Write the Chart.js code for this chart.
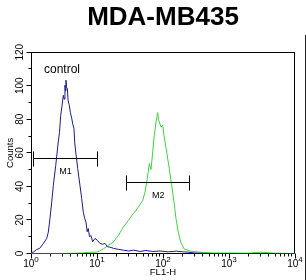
<!DOCTYPE html>
<html>
<head>
<meta charset="UTF-8">
<title>MDA-MB435</title>
<script src="https://cdn.jsdelivr.net/npm/chart.js"></script>
<style>
  html, body { margin: 0; padding: 0; background: #fff; }
  #wrap { width: 306px; height: 280px; }
</style>
</head>
<body>
<div id="wrap"><canvas id="c" width="306" height="280"></canvas></div>
<script>
// control (blue) histogram, FL1-H vs counts
const controlX = [1.0, 1.1, 1.22, 1.35, 1.54, 1.73, 1.83, 1.94, 2.06, 2.18, 2.37, 2.59, 2.7, 2.82, 2.95, 3.09, 3.18, 3.27, 3.33, 3.39, 3.45, 3.55, 3.65, 3.8, 3.95, 4.14, 4.3, 4.48, 4.6, 4.76, 5.1, 5.52, 5.86, 6.2, 6.5, 6.81, 7.1, 7.38, 7.7, 8.11, 8.6, 9.33, 10.2, 11.1, 12.1, 13.2, 14.4, 15.7, 18, 21, 25, 30, 36, 45, 55, 70, 90, 120, 160, 200, 240, 300, 500, 1000, 3000, 10000];
const controlY = [0.5, 1.0, 2.4, 3, 6, 9, 12.7, 21, 30.6, 40.6, 52.5, 66.5, 72, 82.4, 88, 94.3, 92, 100.3, 97, 103.3, 99, 98.5, 91, 88.4, 84, 80.6, 77, 74.6, 66, 60.5, 50.7, 40.6, 32.8, 24.6, 21, 18.7, 13, 14.9, 10, 10.7, 7, 9, 7.8, 6, 5.5, 6, 4, 3.8, 3, 2.5, 2, 1.5, 2, 1.2, 1.8, 1.2, 1.5, 1, 1.4, 1, 0.8, 0.3, 0, 0, 0, 0];

// sample (green) histogram
const sampleX = [1, 3, 6, 8, 9.9, 11, 12.5, 14.8, 17.7, 21, 25, 29.8, 35.5, 42.2, 49.2, 53.4, 57.8, 62, 65.8, 69.8, 73.8, 78.3, 80.5, 83.2, 85.5, 87.9, 93.3, 98.9, 103.5, 113.7, 124.5, 135.4, 146.8, 157.4, 170.6, 185.4, 208, 256, 363, 600, 1000, 2000, 3000, 5000, 10000];
const sampleY = [0, 0, 0.3, 0.8, 0.8, 1.5, 2.8, 4.8, 6.8, 10.7, 15.7, 19.7, 23.7, 27.6, 31.6, 36.6, 44.6, 53.6, 50, 60.5, 70.4, 78.4, 81, 84, 80, 78.4, 75.4, 76.4, 70.4, 60.5, 50.6, 40.6, 30.6, 20.7, 12.7, 6.8, 2.8, 1.4, 0.8, 0.3, 0.3, 0.2, 0.8, 0.2, 0];

// gates
const gateNames = ['M1', 'M2'];
const gateLo = [1.11, 28.2];
const gateHi = [10, 256];
const gateLevel = [56.7, 42.2];

const yTicks = [0, 20, 40, 60, 80, 100, 120];
const xDecades = [0, 1, 2, 3, 4];

const FONT = "'Liberation Sans', Arial, sans-serif";

const toPts = (xs, ys) => xs.map((v, i) => ({ x: v, y: ys[i] }));

const decor = {
  id: 'decor',
  beforeDatasetsDraw(chart) {
    const { ctx, chartArea: a, scales: { x, y } } = chart;
    const L = Math.floor(a.left) + 0.5, R = Math.floor(a.right) - 0.5;
    const T = Math.floor(a.top) + 0.5, B = Math.floor(a.bottom) + 0.5;
    ctx.save();
    ctx.strokeStyle = '#000';
    ctx.lineWidth = 1;
    ctx.strokeRect(L, T, R - L, B - T);

    ctx.beginPath();
    // y ticks
    for (let v = 0; v <= 120; v += 10) {
      const py = Math.floor(y.getPixelForValue(v)) + 0.5;
      const len = v % 20 === 0 ? 5 : 3;
      ctx.moveTo(L, py);
      ctx.lineTo(L - len, py);
    }
    // x ticks
    xDecades.forEach(d => {
      for (let m = 1; m <= 9; m++) {
        const v = m * Math.pow(10, d);
        if (v > 10000) break;
        const px = Math.floor(x.getPixelForValue(v)) + 0.5;
        const len = m === 1 ? 5 : 3;
        ctx.moveTo(px, B);
        ctx.lineTo(px, B + len);
      }
    });
    ctx.stroke();

    ctx.fillStyle = '#000';
    // y labels, rotated
    ctx.font = '10px ' + FONT;
    ctx.textAlign = 'center';
    ctx.textBaseline = 'middle';
    yTicks.forEach(v => {
      ctx.save();
      ctx.translate(a.left - 11, y.getPixelForValue(v));
      ctx.rotate(-Math.PI / 2);
      ctx.fillText(String(v), 0, 0);
      ctx.restore();
    });

    // x labels 10^d
    ctx.textBaseline = 'alphabetic';
    ctx.textAlign = 'left';
    xDecades.forEach(d => {
      const px = x.getPixelForValue(Math.pow(10, d));
      ctx.font = '10px ' + FONT;
      const w1 = ctx.measureText('10').width;
      ctx.font = '8px ' + FONT;
      const w2 = ctx.measureText(String(d)).width;
      const x0 = px - (w1 + w2) / 2;
      ctx.font = '10px ' + FONT;
      ctx.fillText('10', x0, B + 13);
      ctx.font = '8px ' + FONT;
      ctx.fillText(String(d), x0 + w1, B + 8);
    });

    // axis titles
    ctx.font = '9.5px ' + FONT;
    ctx.textAlign = 'center';
    ctx.textBaseline = 'middle';
    ctx.fillText('FL1-H', (a.left + a.right) / 2, B + 19);
    ctx.save();
    ctx.translate(10, (a.top + a.bottom) / 2);
    ctx.rotate(-Math.PI / 2);
    ctx.fillText('Counts', 0, 0);
    ctx.restore();
    ctx.restore();
  },
  afterDatasetsDraw(chart) {
    const { ctx, chartArea: a, scales: { x, y } } = chart;
    ctx.save();
    ctx.strokeStyle = '#000';
    ctx.fillStyle = '#000';
    ctx.lineWidth = 1;
    ctx.font = '9px ' + FONT;
    ctx.textAlign = 'center';
    ctx.textBaseline = 'middle';
    gateNames.forEach((name, i) => {
      const x1 = Math.floor(x.getPixelForValue(gateLo[i])) + 0.5;
      const x2 = Math.floor(x.getPixelForValue(gateHi[i])) + 0.5;
      const py = Math.floor(y.getPixelForValue(gateLevel[i])) + 0.5;
      ctx.beginPath();
      ctx.moveTo(x1, py); ctx.lineTo(x2, py);
      ctx.moveTo(x1, py - 7); ctx.lineTo(x1, py + 8);
      ctx.moveTo(x2, py - 7); ctx.lineTo(x2, py + 8);
      ctx.stroke();
      const mid = x.getPixelForValue(Math.sqrt(gateLo[i] * gateHi[i]));
      ctx.fillText(name, mid, py + 13);
    });
    ctx.font = '12px ' + FONT;
    ctx.textAlign = 'left';
    ctx.fillText('control', a.left + 13, a.top + 17);
    ctx.restore();
  },
  afterDraw(chart) {
    const ctx = chart.ctx;
    ctx.save();
    ctx.fillStyle = '#222';
    ctx.fillRect(305, 35, 1, 245);
    ctx.restore();
  }
};

new Chart(document.getElementById('c'), {
  type: 'line',
  data: {
    datasets: [{
      label: 'control',
      data: toPts(controlX, controlY),
      borderColor: '#1c1c8e',
      borderWidth: 1,
      pointRadius: 0,
      tension: 0,
      fill: false
    }, {
      label: 'MDA-MB435',
      data: toPts(sampleX, sampleY),
      borderColor: '#3cd83c',
      borderWidth: 1,
      pointRadius: 0,
      tension: 0,
      fill: false
    }]
  },
  options: {
    responsive: false,
    animation: false,
    layout: { padding: { left: 31, right: 11, top: 0, bottom: 26.5 } },
    scales: {
      x: { type: 'logarithmic', min: 1, max: 10000, display: false },
      y: { type: 'linear', min: 0, max: 120, display: false }
    },
    plugins: {
      legend: { display: false },
      tooltip: { enabled: false },
      title: {
        display: true,
        text: 'MDA-MB435',
        color: '#000',
        font: { family: FONT, size: 26, weight: 'bold' },
        padding: { top: 2, bottom: 19 }
      }
    }
  },
  plugins: [decor]
});
</script>
</body>
</html>
